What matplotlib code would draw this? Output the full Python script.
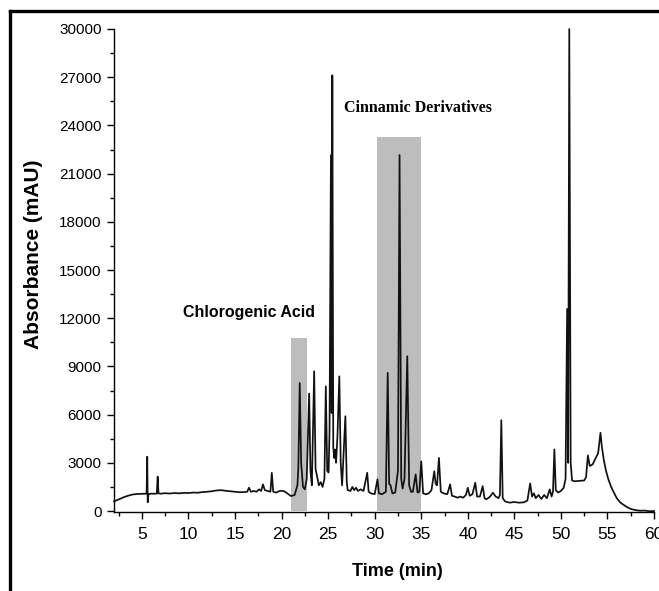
import matplotlib
matplotlib.use("Agg")
import matplotlib.pyplot as plt
from matplotlib.lines import Line2D
from matplotlib.patches import Rectangle
from matplotlib.ticker import MultipleLocator

# chromatogram trace (time in min, absorbance in mAU)
time_min = [
    2.0, 2.5, 3.0, 3.5, 4.0, 4.5, 5.0, 5.5, 5.57, 5.62, 5.7, 6.0, 6.6, 6.69, 6.78,
    7.0, 7.5, 8.0, 8.5, 9.0, 9.5, 10.0, 10.5, 11.0, 11.5, 12.0, 12.5, 13.0, 13.5,
    14.0, 14.5, 15.0, 15.5, 16.0, 16.3, 16.5, 16.7, 17.0, 17.3, 17.6, 17.8, 18.0,
    18.2, 18.5, 18.8, 18.95, 19.1, 19.4, 19.8, 20.2, 20.5, 21.0, 21.4, 21.7, 21.8,
    21.95, 22.1, 22.3, 22.5, 22.7, 22.96, 23.1, 23.25, 23.5, 23.65, 23.8, 24.0,
    24.2, 24.4, 24.6, 24.75, 24.9, 25.05, 25.15, 25.3, 25.38, 25.45, 25.55, 25.65,
    25.75, 25.85, 26.0, 26.2, 26.35, 26.5, 26.85, 27.0, 27.1, 27.4, 27.6, 27.8,
    28.0, 28.2, 28.5, 28.8, 29.2, 29.35, 29.6, 30.0, 30.3, 30.45, 30.8, 31.2, 31.4,
    31.55, 31.7, 31.9, 32.2, 32.5, 32.67, 32.85, 33.0, 33.2, 33.5, 33.7, 33.9,
    34.1, 34.4, 34.6, 34.8, 35.0, 35.2, 35.5, 35.8, 36.1, 36.4, 36.55, 36.7, 36.9,
    37.1, 37.4, 37.8, 38.1, 38.3, 38.6, 38.9, 39.2, 39.5, 39.8, 40.0, 40.2, 40.5,
    40.8, 41.0, 41.3, 41.6, 41.8, 42.0, 42.4, 42.7, 43.0, 43.3, 43.45, 43.6, 43.75,
    44.0, 44.5, 45.0, 45.5, 46.0, 46.4, 46.7, 46.9, 47.1, 47.3, 47.6, 47.9, 48.2,
    48.5, 48.8, 49.0, 49.15, 49.3, 49.45, 49.7, 50.0, 50.3, 50.5, 50.67, 50.78,
    50.9, 51.05, 51.2, 51.5, 52.0, 52.5, 52.7, 52.9, 53.1, 53.4, 53.7, 54.0, 54.25,
    54.4, 54.6, 54.85, 55.1, 55.4, 55.7, 56.0, 56.4, 57.0, 57.5, 58.0, 58.5, 59.0,
    59.5, 60.0,
]
absorbance = [
    600, 720, 850, 950, 1030, 1060, 1070, 1080, 3380, 540, 1050, 1080, 1080, 2140, 1100,
    1080, 1110, 1090, 1120, 1100, 1130, 1120, 1150, 1140, 1180, 1200, 1230, 1280, 1300,
    1260, 1230, 1200, 1170, 1180, 1200, 1450, 1200, 1250, 1200, 1350, 1250, 1660,
    1300, 1250, 1200, 2380, 1200, 1150, 1250, 1250, 1150, 930, 1000, 1600, 2700,
    7970, 3000, 1500, 1350, 2000, 7310, 2500, 1600, 8700, 2600, 2200, 1600,
    1800, 1500, 2000, 7760, 2500, 2400, 5000, 22150, 6100, 27120, 4000, 3300,
    3830, 3000, 4660, 8380, 3000, 1600, 5900, 1800, 1300, 1250, 1500, 1300,
    1450, 1250, 1350, 1250, 2380, 1200, 1100, 1050, 1970, 1100, 1050, 1200, 8600,
    1700, 1600, 1100, 1150, 2500, 22150, 2000, 1400, 2000, 9630, 1600, 1200,
    1200, 2280, 1150, 1200, 3100, 1100, 1040, 1100, 1300, 2480, 1700, 1600, 3310,
    1200, 1100, 1050, 1660, 950, 900, 830, 900, 830, 1000, 1450, 950, 1050,
    1760, 900, 900, 1550, 800, 730, 900, 1140, 900, 800, 1000, 5650, 800,
    600, 520, 560, 520, 540, 650, 1720, 900, 1100, 800, 1000, 750, 1000,
    800, 1350, 900, 1200, 3830, 1300, 1150, 1250, 1450, 2000, 12570, 3000,
    30000, 3000, 1900, 1850, 1880, 1900, 2100, 3460, 2800, 2900, 3250, 3600, 4870,
    4000, 3210, 2500, 1970, 1500, 1140, 800, 520, 280, 130, 60, 20, 30,
    -10, 0,
]

# shaded regions: (start, end, top)
region_start = [21.0, 30.3]
region_end = [22.7, 35.0]
region_top = [10750, 23300]

label_text = ["Chlorogenic Acid", "Cinnamic Derivatives"]
label_x = [16.5, 34.6]
label_y = [12340, 25070]

fig = plt.figure(figsize=(6.59, 5.91), dpi=100)
ax = fig.add_axes([114 / 659, 1 - 512 / 591, 540 / 659, 483 / 591])

for x0, x1, top in zip(region_start, region_end, region_top):
    ax.add_patch(Rectangle((x0, 0), x1 - x0, top, facecolor="#bdbdbd",
                           edgecolor="none", zorder=1))

ax.plot(time_min, absorbance, color="#111111", lw=1.25, zorder=2, clip_on=False)

ax.text(label_x[0], label_y[0], label_text[0], ha="center", va="center",
        fontsize=11.5, fontweight="bold", family="Liberation Sans")
ax.text(label_x[1], label_y[1], label_text[1], ha="center", va="center",
        fontsize=11.5, fontweight="bold", family="Liberation Serif")

ax.set_xlim(2, 60)
ax.set_ylim(-60, 30000)
ax.xaxis.set_major_locator(MultipleLocator(5))
ax.xaxis.set_minor_locator(MultipleLocator(2.5))
ax.yaxis.set_major_locator(MultipleLocator(3000))
ax.yaxis.set_minor_locator(MultipleLocator(1500))
ax.set_xticks(range(5, 61, 5))

for side in ["top", "right"]:
    ax.spines[side].set_visible(False)
for side in ["left", "bottom"]:
    ax.spines[side].set_linewidth(1.0)

ax.tick_params(which="major", direction="out", length=5, width=1)
ax.tick_params(which="minor", direction="out", length=3, width=1)
ax.tick_params(axis="x", which="major", pad=6)
ax.tick_params(axis="y", which="major", pad=4)
for lab in ax.get_xticklabels():
    lab.set_family("Liberation Sans")
    lab.set_fontsize(12.5)
for lab in ax.get_yticklabels():
    lab.set_family("Liberation Sans")
    lab.set_fontsize(11)

fig.text(34 / 659, 1 - 254 / 591, "Absorbance (mAU)", rotation=90, ha="center",
         va="center", fontsize=15, fontweight="bold", family="Liberation Sans")
fig.text(397 / 659, 1 - 572 / 591, "Time (min)", ha="center", va="center",
         fontsize=13, fontweight="bold", family="Liberation Sans")

# black frame on top and left edge
fig.add_artist(Line2D([10 / 659, 1], [1 - 11 / 591, 1 - 11 / 591],
                      transform=fig.transFigure, color="black", lw=2.4))
fig.add_artist(Line2D([10 / 659, 10 / 659], [0, 1 - 11 / 591],
                      transform=fig.transFigure, color="black", lw=2.4))

fig.savefig("out.png", dpi=100)
